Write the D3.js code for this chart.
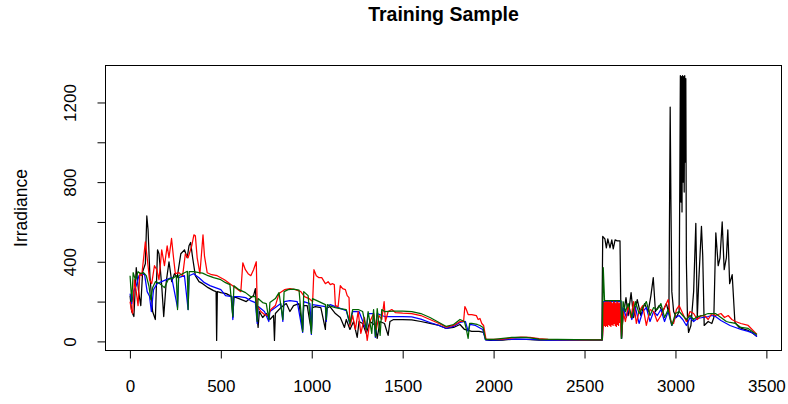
<!DOCTYPE html>
<html>
<head>
<meta charset="utf-8">
<script src="https://cdn.jsdelivr.net/npm/d3@7"></script>
<style>
  body { margin: 0; background: #fff; }
  text { font-family: "Liberation Sans", Arial, sans-serif; }
</style>
</head>
<body>
<svg width="788" height="404"></svg>
<script>
//chart text
var title = "Training Sample";
var yTitle = "Irradiance";
var xTicks = [0, 500, 1000, 1500, 2000, 2500, 3000, 3500];
var yTicks = [0, 200, 400, 600, 800, 1000, 1200];
var yLabelled = [0, 400, 800, 1200];

//series, [index, irradiance]
var blackPts = [
  [1,230],[10,150],[22,125],[35,370],[48,250],[60,180],[70,350],[85,390],[93,630],[100,560],
  [110,330],[125,150],[140,110],[152,460],[160,440],[175,280],[186,125],[200,300],[215,400],[230,300],
  [245,340],[260,320],[280,440],[300,460],[315,420],[325,480],[334,497],[345,420],[360,330],[380,300],
  [400,290],[430,270],[460,255],[474,250],[477,5],[481,250],[500,245],[530,240],[560,225],[566,120],
  [572,225],[600,215],[640,200],[680,230],[690,265],[698,140],[705,70],[712,150],[730,120],[750,140],
  [770,110],[790,130],[795,5],[800,140],[830,170],[860,190],[880,150],[900,180],[930,190],[950,60],
  [956,180],[975,180],[998,50],[1004,170],[1020,175],[1050,170],[1075,60],[1080,165],[1100,175],[1130,140],
  [1157,120],[1180,70],[1190,110],[1210,60],[1230,100],[1250,20],[1260,100],[1280,90],[1300,40],[1320,100],
  [1350,80],[1360,15],[1375,100],[1400,90],[1420,30],[1430,100],[1450,110],[1500,110],[1550,108],[1600,100],
  [1650,90],[1700,80],[1740,65],[1780,70],[1815,85],[1840,60],[1860,55],[1880,50],[1920,50],[1945,45],
  [1958,8],[1980,5],[2050,7],[2120,12],[2180,10],[2250,6],[2350,6],[2450,7],[2550,6],[2595,6],
  [2600,527],[2612,515],[2620,470],[2628,515],[2640,470],[2650,510],[2658,465],[2668,510],[2680,505],[2695,505],
  [2702,15],[2712,120],[2728,220],[2740,130],[2756,245],[2770,120],[2790,210],[2810,130],[2830,190],[2850,150],
  [2865,230],[2878,320],[2890,150],[2910,180],[2930,150],[2950,190],[2964,140],[2971,1177],[2975,710],[2980,250],
  [2990,150],[3005,120],[3020,150],[3027,1335],[3030,700],[3033,1330],[3036,650],[3039,1335],[3042,800],[3045,1330],
  [3048,750],[3051,1335],[3054,900],[3057,1320],[3060,400],[3066,120],[3072,45],[3085,80],[3100,250],[3112,593],
  [3120,120],[3128,300],[3143,578],[3150,430],[3158,80],[3180,100],[3200,90],[3211,120],[3222,545],[3235,380],
  [3245,420],[3257,600],[3268,360],[3280,420],[3288,560],[3298,290],[3312,335],[3327,95],[3350,70],[3380,60],
  [3400,55],[3420,45],[3448,25]
];

var redPts = [
  [1,200],[8,160],[15,140],[25,310],[35,250],[45,180],[55,345],[65,330],[85,500],[95,420],
  [108,310],[120,290],[135,380],[148,360],[160,310],[175,460],[190,380],[205,480],[215,420],[229,517],
  [240,420],[250,340],[270,345],[290,330],[305,440],[320,420],[340,480],[352,535],[360,530],[370,420],
  [385,340],[402,535],[410,430],[425,345],[450,335],[480,330],[520,310],[550,290],[580,270],[610,250],
  [621,395],[635,360],[650,340],[665,330],[680,360],[695,400],[700,180],[720,150],[740,135],[760,130],
  [775,160],[800,180],[820,240],[850,260],[880,265],[910,260],[940,250],[960,225],[985,215],[1005,200],
  [1012,360],[1025,330],[1040,320],[1055,320],[1075,290],[1090,300],[1102,285],[1115,290],[1124,285],[1130,180],
  [1145,175],[1157,280],[1170,265],[1185,260],[1195,230],[1205,220],[1210,75],[1225,130],[1240,60],[1255,150],
  [1270,40],[1290,120],[1305,5],[1320,100],[1340,140],[1355,60],[1370,130],[1385,110],[1398,200],[1405,100],
  [1420,150],[1440,160],[1460,145],[1500,142],[1550,140],[1600,130],[1650,110],[1700,90],[1740,72],[1780,80],
  [1815,100],[1835,100],[1842,175],[1850,160],[1860,135],[1880,135],[1905,130],[1915,110],[1925,115],[1935,90],
  [1945,80],[1958,12],[1980,10],[2050,12],[2100,18],[2150,22],[2200,20],[2250,14],[2300,10],[2400,9],
  [2500,8],[2598,8],[2603,80],[2606,195],[2609,80],[2612,195],[2615,75],[2618,200],[2621,80],[2624,195],
  [2627,75],[2630,200],[2633,85],[2636,195],[2639,80],[2642,200],[2645,75],[2648,195],[2651,85],[2654,190],
  [2657,80],[2660,200],[2663,90],[2666,195],[2669,80],[2672,190],[2675,75],[2678,200],[2681,85],[2684,195],
  [2687,80],[2690,190],[2693,95],[2696,195],[2699,90],[2704,20],[2712,150],[2725,100],[2740,180],[2755,120],
  [2770,200],[2785,90],[2800,150],[2820,180],[2840,80],[2860,160],[2880,150],[2900,100],[2920,130],[2940,170],
  [2960,210],[2975,100],[2990,90],[3005,160],[3020,180],[3040,140],[3060,100],[3080,150],[3100,140],[3120,110],
  [3140,130],[3160,130],[3180,110],[3200,140],[3220,130],[3250,140],[3270,120],[3290,130],[3310,110],[3330,100],
  [3360,90],[3400,80],[3448,35]
];

var bluePts = [
  [1,240],[10,190],[20,250],[35,280],[50,330],[65,335],[80,340],[95,250],[108,227],[118,150],
  [130,260],[150,290],[175,300],[200,310],[230,320],[262,170],[268,320],[300,330],[320,160],[326,330],
  [350,340],[380,320],[410,295],[440,280],[470,270],[500,260],[526,230],[560,225],[566,110],[572,225],
  [600,225],[636,220],[663,205],[690,195],[700,90],[706,175],[740,150],[764,100],[770,150],[800,170],
  [830,190],[841,100],[848,200],[880,205],[920,200],[950,45],[956,200],[990,190],[998,35],[1004,185],
  [1040,180],[1075,175],[1080,100],[1086,175],[1102,185],[1130,175],[1190,155],[1210,85],[1225,150],[1260,150],
  [1300,55],[1310,140],[1340,140],[1350,20],[1360,140],[1400,125],[1450,125],[1500,125],[1550,123],[1600,112],
  [1650,95],[1700,80],[1740,65],[1780,75],[1815,95],[1845,100],[1860,50],[1870,85],[1900,80],[1940,60],
  [1955,8],[2000,6],[2100,12],[2200,10],[2300,7],[2400,7],[2500,6],[2598,7],[2605,200],[2700,200],
  [2704,15],[2712,170],[2730,120],[2745,170],[2760,110],[2780,170],[2800,90],[2820,150],[2840,170],[2860,100],
  [2880,150],[2900,130],[2920,160],[2940,100],[2960,150],[2980,80],[3000,120],[3020,130],[3040,110],[3060,80],
  [3080,120],[3100,100],[3120,115],[3150,120],[3180,125],[3200,130],[3220,125],[3250,105],[3280,90],[3300,80],
  [3330,70],[3360,60],[3400,50],[3430,40],[3448,25]
];

var greenPts = [
  [1,330],[10,200],[18,345],[30,310],[45,350],[60,340],[75,345],[90,330],[105,277],[115,210],
  [125,270],[140,300],[165,290],[190,270],[210,310],[240,320],[255,330],[262,160],[268,330],[290,340],
  [316,352],[320,160],[326,350],[350,350],[380,345],[400,343],[430,330],[460,320],[500,310],[526,295],
  [550,285],[566,125],[572,280],[600,260],[636,245],[663,225],[690,225],[700,100],[705,215],[730,195],
  [750,190],[764,110],[770,195],[800,215],[820,245],[841,110],[848,250],[870,260],[900,262],[930,258],
  [950,50],[956,250],[980,230],[998,40],[1004,215],[1040,200],[1075,185],[1080,110],[1086,185],[1102,177],
  [1130,170],[1157,165],[1190,160],[1210,90],[1225,160],[1256,160],[1280,150],[1300,60],[1310,150],[1330,40],
  [1340,160],[1350,25],[1360,165],[1376,30],[1385,160],[1400,150],[1450,152],[1500,152],[1550,150],[1600,140],
  [1650,120],[1700,95],[1740,75],[1780,85],[1815,110],[1840,100],[1850,60],[1860,15],[1868,90],[1880,90],
  [1910,85],[1925,80],[1942,70],[1955,10],[2000,10],[2100,20],[2180,20],[2250,12],[2350,10],[2450,9],
  [2550,8],[2598,8],[2603,370],[2610,205],[2700,205],[2704,15],[2712,200],[2725,150],[2740,190],[2760,120],
  [2780,200],[2800,140],[2820,170],[2840,200],[2860,130],[2880,170],[2900,160],[2920,190],[2940,120],[2960,160],
  [2980,80],[3000,140],[3020,150],[3040,130],[3060,110],[3080,130],[3100,110],[3120,125],[3150,130],[3180,140],
  [3200,140],[3220,140],[3250,120],[3280,100],[3300,95],[3330,90],[3360,70],[3400,65],[3430,45],[3448,35]
];

var series = [
  { pts: blackPts, color: "#000000" },
  { pts: bluePts, color: "#0000ff" },
  { pts: redPts, color: "#ff0000" },
  { pts: greenPts, color: "#006400" }
];

//plot box
var svg = d3.select("svg"),
    box = { left: 105, right: 782, top: 65, bottom: 351 };

//R style 4% padding on the data range
var allPts = [].concat(blackPts, redPts, bluePts, greenPts);
var xExt = d3.extent(allPts, function (d) { return d[0]; }),
    yExt = d3.extent(allPts, function (d) { return d[1]; });
var xPad = (xExt[1] - xExt[0]) * 0.04,
    yPad = (yExt[1] - yExt[0]) * 0.04;

var x = d3.scaleLinear().domain([xExt[0] - xPad, xExt[1] + xPad]).range([box.left, box.right]);
var y = d3.scaleLinear().domain([yExt[0] - yPad, yExt[1] + yPad]).range([box.bottom, box.top]);

var line = d3.line()
    .x(function (d) { return x(d[0]); })
    .y(function (d) { return y(d[1]); });

//lines
svg.selectAll(".series")
    .data(series)
    .enter()
    .append("path")
    .attr("class", "series")
    .attr("fill", "none")
    .attr("stroke", function (d) { return d.color; })
    .attr("stroke-width", 1.25)
    .attr("stroke-linejoin", "round")
    .attr("d", function (d) { return line(d.pts); });

//box
svg.append("rect")
    .attr("x", box.left + 0.5)
    .attr("y", box.top + 0.5)
    .attr("width", box.right - box.left - 1)
    .attr("height", box.bottom - box.top - 1)
    .attr("fill", "none")
    .attr("stroke", "#000")
    .attr("stroke-width", 1);

//x axis
var xAxis = svg.append("g")
    .attr("transform", "translate(0," + (box.bottom - 0.5) + ")")
    .call(d3.axisBottom(x).tickValues(xTicks).tickSize(8).tickPadding(21).tickSizeOuter(0)
        .tickFormat(d3.format("d")));
xAxis.select(".domain")
    .attr("d", "M" + x(xTicks[0]) + ",0H" + x(xTicks[xTicks.length - 1]));
xAxis.selectAll("text").attr("font-size", 17).attr("font-family", "Liberation Sans, Arial, sans-serif");

//y axis
var yAxis = svg.append("g")
    .attr("transform", "translate(" + (box.left + 0.5) + ",0)")
    .call(d3.axisLeft(y).tickValues(yTicks).tickSize(8).tickSizeOuter(0)
        .tickFormat(function (d) { return yLabelled.indexOf(d) >= 0 ? d : ""; }));
yAxis.select(".domain")
    .attr("d", "M0," + y(yTicks[0]) + "V" + y(yTicks[yTicks.length - 1]));
yAxis.selectAll("text")
    .attr("font-size", 17)
    .attr("font-family", "Liberation Sans, Arial, sans-serif")
    .attr("text-anchor", "middle")
    .attr("x", null)
    .attr("dy", null)
    .attr("transform", "translate(-30,0) rotate(-90)");

//titles
svg.append("text")
    .attr("x", (box.left + box.right) / 2)
    .attr("y", 21)
    .attr("text-anchor", "middle")
    .attr("font-size", 19.5)
    .attr("font-weight", "bold")
    .text(title);

svg.append("text")
    .attr("transform", "translate(27," + (box.top + box.bottom) / 2 + ") rotate(-90)")
    .attr("text-anchor", "middle")
    .attr("font-size", 17.5)
    .text(yTitle);
</script>
</body>
</html>
